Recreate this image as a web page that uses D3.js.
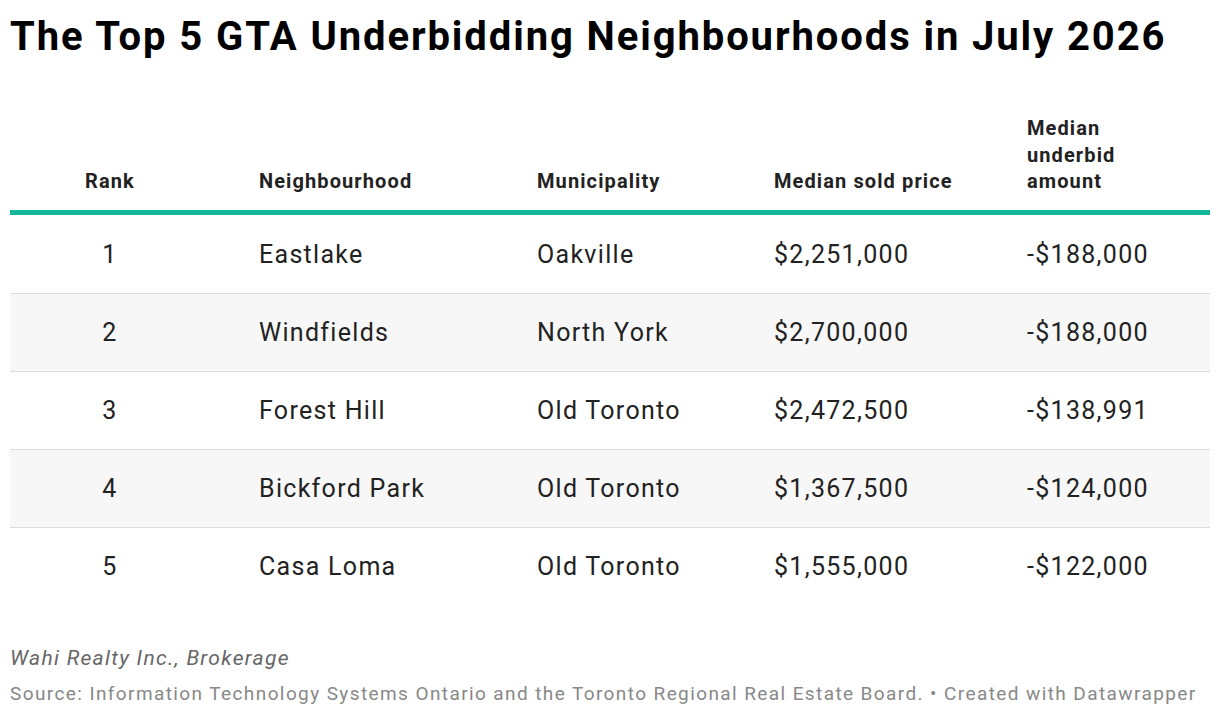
<!DOCTYPE html><html><head><meta charset="utf-8">
<script src="https://cdn.jsdelivr.net/npm/d3@7"></script>
<style>body{margin:0;background:#fff;font-family:Roboto,sans-serif}</style></head><body>
<svg id="c" width="1220" height="718"></svg>
<script>
const headers=[["Rank"],["Neighbourhood"],["Municipality"],["Median sold price"],["Median","underbid","amount"]];
const ranks=["1","2","3","4","5"];
const neighbourhoods=["Eastlake","Windfields","Forest Hill","Bickford Park","Casa Loma"];
const municipalities=["Oakville","North York","Old Toronto","Old Toronto","Old Toronto"];
const prices=["$2,251,000","$2,700,000","$2,472,500","$1,367,500","$1,555,000"];
const underbids=["-$188,000","-$188,000","-$138,991","-$124,000","-$122,000"];
const svg=d3.select("#c");
svg.append("text").attr("x",10).attr("y",50).attr("font-size",40).attr("font-weight",700).attr("letter-spacing",1.9).attr("fill","#000").text("The Top 5 GTA Underbidding Neighbourhoods in July 2026");
const colX=[110,259,537,774,1027], anchors=["middle","start","start","start","start"];
headers.forEach((h,i)=>{h.forEach((l,j)=>{svg.append("text").attr("x",colX[i]).attr("y",188-(h.length-1-j)*26.5).attr("text-anchor",anchors[i]).attr("font-size",20).attr("font-weight",700).attr("letter-spacing",1.1).attr("fill","#222").text(l);});});
const y=d3.scaleBand().domain(d3.range(5)).range([215,605]);
const rows=ranks.map((r,i)=>[r,neighbourhoods[i],municipalities[i],prices[i],underbids[i]]);
rows.forEach((r,i)=>{
 if(i%2==1) svg.append("rect").attr("x",10).attr("width",1200).attr("y",y(i)).attr("height",y.bandwidth()).attr("fill","#f7f7f7");
 if(i>0) svg.append("line").attr("x1",10).attr("x2",1210).attr("y1",y(i)+0.5).attr("y2",y(i)+0.5).attr("stroke","#ddd");
 r.forEach((t,k)=>svg.append("text").attr("x",colX[k]).attr("y",y(i)+y.bandwidth()/2+9).attr("text-anchor",anchors[k]).attr("font-size",25).attr("letter-spacing",1.3).attr("fill","#222").text(t));
});
svg.append("rect").attr("x",10).attr("width",1200).attr("y",210).attr("height",5).attr("fill","#15b79a");
svg.append("text").attr("x",10).attr("y",665).attr("font-size",21).attr("font-style","italic").attr("letter-spacing",1.3).attr("fill","#666").text("Wahi Realty Inc., Brokerage");
svg.append("text").attr("x",10).attr("y",700).attr("font-size",19).attr("letter-spacing",1.4).attr("fill","#888").text("Source: Information Technology Systems Ontario and the Toronto Regional Real Estate Board. • Created with Datawrapper");
</script></body></html>
